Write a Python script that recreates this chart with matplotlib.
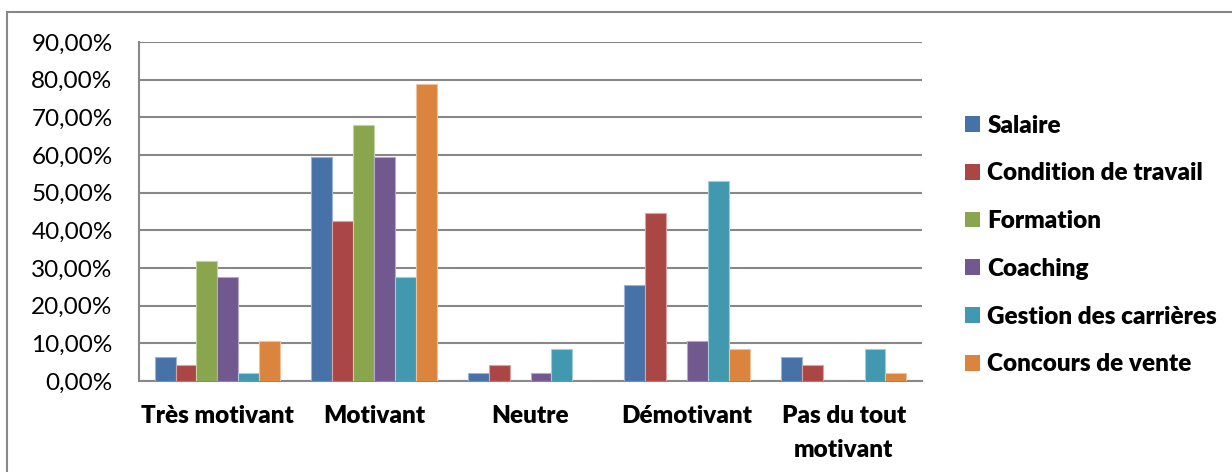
import matplotlib.pyplot as plt
import matplotlib as mpl
import numpy as np
from matplotlib.patches import Rectangle
from matplotlib.ticker import FuncFormatter

mpl.rcParams["font.family"] = ["Lato", "DejaVu Sans"]

categories = ["Très motivant", "Motivant", "Neutre", "Démotivant", "Pas du tout\nmotivant"]
series = ["Salaire", "Condition de travail", "Formation", "Coaching",
          "Gestion des carrières", "Concours de vente"]

salaire = [6.38, 59.57, 2.13, 25.53, 6.38]
condition = [4.26, 42.55, 4.26, 44.68, 4.26]
formation = [31.91, 68.09, 0.0, 0.0, 0.0]
coaching = [27.66, 59.57, 2.13, 10.64, 0.0]
gestion = [2.13, 27.66, 8.51, 53.19, 8.51]
concours = [10.64, 78.72, 0.0, 8.51, 2.13]

values = [salaire, condition, formation, coaching, gestion, concours]
colors = ["#4672A8", "#AA4644", "#89A54E", "#71588F", "#4198AF", "#DB843D"]
edges = ["#9DB3D4", "#D9A3A2", "#C2D4A5", "#B5A8C8", "#A3CCD8", "#EDC19E"]

grid_color = "#888888"

fig = plt.figure(figsize=(12.32, 4.72), dpi=100)

# outer chart frame
fig.patches.append(Rectangle((7 / 1232, -0.05), 1.0, 1 - 12 / 472 + 0.05,
                             transform=fig.transFigure, fill=False,
                             edgecolor=grid_color, linewidth=1.5))

ax = fig.add_axes([139 / 1232, 1 - 381 / 472, 783 / 1232, 339 / 472])

x = np.arange(len(categories))
width = 0.8 / 6
for i, (name, vals) in enumerate(zip(series, values)):
    ax.bar(x - 0.4 + width * (i + 0.5), vals, width, color=colors[i],
           edgecolor=edges[i], linewidth=0.8, label=name, zorder=3)

ax.set_xlim(-0.5, len(categories) - 0.5)
ax.set_ylim(0, 90)
ax.set_yticks(np.arange(0, 91, 10))
ax.yaxis.set_major_formatter(FuncFormatter(lambda v, _: f"{v:.2f}".replace(".", ",") + "%"))
ax.yaxis.grid(True, color=grid_color, linewidth=1.5, zorder=0)
ax.set_axisbelow(True)

ax.set_xticks(x)
ax.set_xticklabels(categories, fontweight="heavy", fontsize=17.5, linespacing=1.7)
ax.tick_params(axis="x", length=0, pad=17)
ax.tick_params(axis="y", length=0, pad=19, labelsize=17.5)

for side in ["top", "right"]:
    ax.spines[side].set_visible(False)
for side in ["left", "bottom"]:
    ax.spines[side].set_color(grid_color)
    ax.spines[side].set_linewidth(1.5)

leg = fig.legend(loc="center left", bbox_to_anchor=(965 / 1232, 1 - 245 / 472),
                 frameon=False, prop={"weight": "heavy", "size": 17.5},
                 handlelength=0.62, handleheight=0.62, handletextpad=0.3,
                 labelspacing=1.06, borderpad=0, borderaxespad=0)
for h in leg.legend_handles:
    h.set_edgecolor("none")

plt.savefig("out.png", dpi=100, facecolor="white")
